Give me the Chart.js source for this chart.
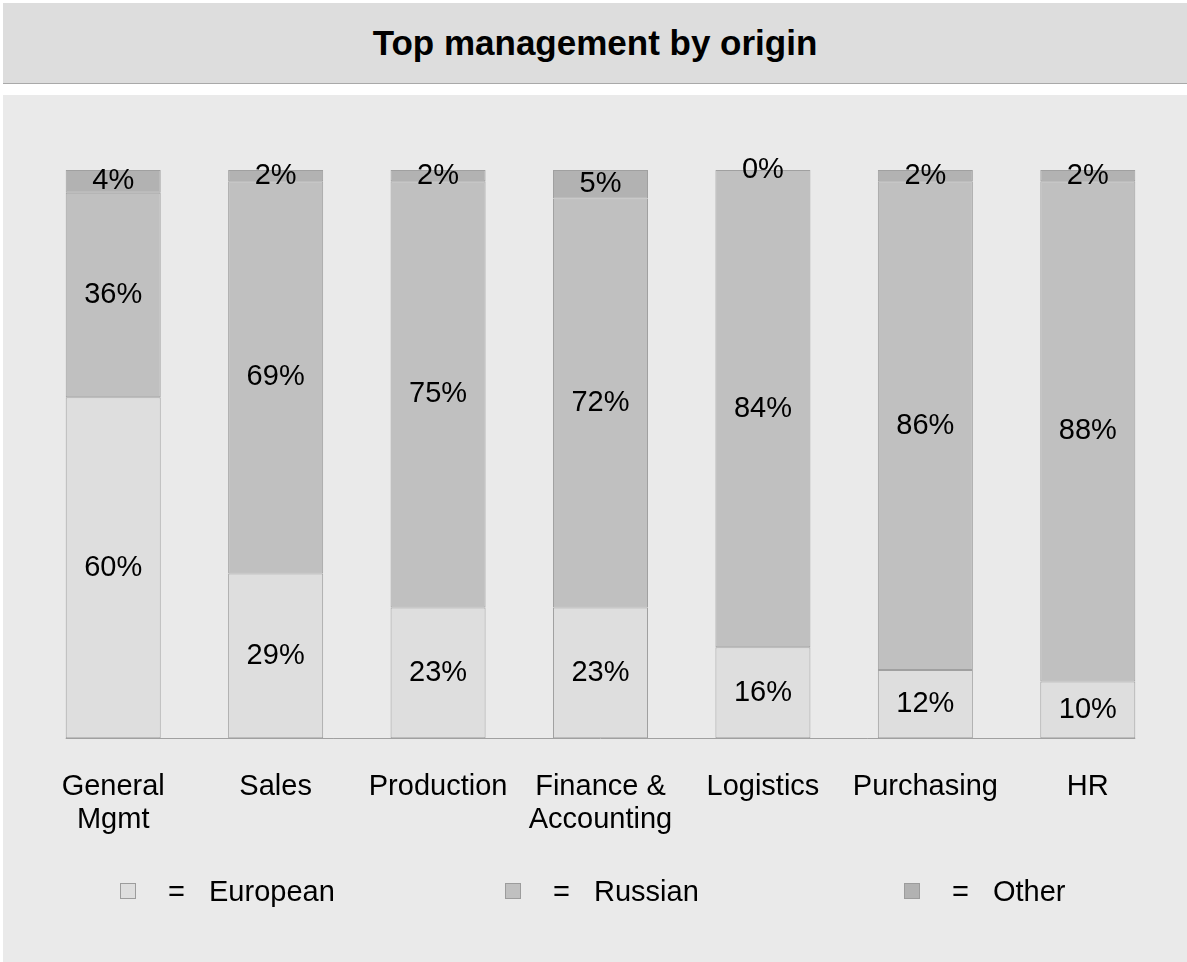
<!DOCTYPE html>
<html>
<head>
<meta charset="utf-8">
<title>Top management by origin</title>
<script src="https://cdn.jsdelivr.net/npm/chart.js"></script>
<style>
  body { margin: 0; background: #ffffff; font-family: "Liberation Sans", Arial, sans-serif; }
  #title {
    position: absolute; left: 3px; top: 3px; width: 1184px; height: 80px;
    background: #dddddd; border-bottom: 1px solid #a9a9a9;
    font-weight: bold; font-size: 35px; line-height: 80px; text-align: center; color: #000;
  }
  #panel { position: absolute; left: 3px; top: 95px; width: 1184px; height: 867px; background: #eaeaea; }
  #myChart { position: absolute; left: 0; top: 0; }
  .leg { position: absolute; top: 796px; height: 0; font-size: 29px; color: #000; }
  .leg .box { position: absolute; left: 0; top: -8px; width: 14px; height: 14px; border: 1px solid #9c9c9c; }
  .leg .eq { position: absolute; left: 48px; top: -17px; line-height: 34px; }
  .leg .txt { position: absolute; left: 89px; top: -17px; line-height: 34px; white-space: nowrap; }
</style>
</head>
<body>
<div id="title">Top management by origin</div>
<div id="panel">
  <canvas id="myChart" width="1184" height="867"></canvas>
  <div id="legend"></div>
</div>
<script>
var categories = [["General", "Mgmt"], "Sales", "Production", ["Finance &", "Accounting"], "Logistics", "Purchasing", "HR"];
var seriesNames = ["European", "Russian", "Other"];
var european = [60, 29, 23, 23, 16, 12, 10];
var russian = [36, 69, 75, 72, 84, 86, 88];
var other = [4, 2, 2, 5, 0, 2, 2];
var colors = ["#dedede", "#c0c0c0", "#b2b2b2"];

var FONT = '"Liberation Sans", Arial, sans-serif';

// percent labels in the middle of each segment + the base line under the bars
var barLabels = {
  id: "barLabels",
  afterDatasetsDraw: function(chart) {
    var ctx = chart.ctx;
    ctx.save();
    ctx.font = "29px " + FONT;
    ctx.fillStyle = "#000";
    ctx.textAlign = "center";
    ctx.textBaseline = "middle";
    chart.data.datasets.forEach(function(ds, i) {
      chart.getDatasetMeta(i).data.forEach(function(bar, j) {
        ctx.fillText(ds.data[j] + "%", bar.x, (bar.y + bar.base) / 2);
      });
    });
    var bars = chart.getDatasetMeta(0).data;
    var first = bars[0], last = bars[bars.length - 1];
    var y0 = Math.round(chart.scales.y.getPixelForValue(0)) + 0.5;
    ctx.strokeStyle = "#a0a0a0";
    ctx.lineWidth = 1;
    ctx.beginPath();
    ctx.moveTo(first.x - first.width / 2, y0);
    ctx.lineTo(last.x + last.width / 2, y0);
    ctx.stroke();
    ctx.restore();
  }
};

var seriesData = [european, russian, other];
var datasets = seriesNames.map(function(name, i) {
  return {
    label: name,
    data: seriesData[i],
    backgroundColor: colors[i],
    borderColor: "#a0a0a0",
    borderWidth: 1,
    borderSkipped: false,
    categoryPercentage: 1,
    barPercentage: 0.585
  };
});

new Chart("myChart", {
  type: "bar",
  data: { labels: categories, datasets: datasets },
  options: {
    responsive: false,
    animation: false,
    layout: { padding: { left: 29, right: 18, top: 75, bottom: 93 } },
    plugins: { legend: { display: false }, tooltip: { enabled: false } },
    scales: {
      x: {
        stacked: true,
        grid: { display: false, drawTicks: false },
        border: { display: false },
        ticks: { color: "#000", padding: 32, maxRotation: 0, autoSkip: false, font: { family: FONT, size: 29, lineHeight: 1.15 } }
      },
      y: { stacked: true, display: false, min: 0, max: 100 }
    }
  },
  plugins: [barLabels]
});

// legend: box  =  name
var legendLeft = [120, 505, 904];
var leg = document.getElementById("legend");
seriesNames.forEach(function(name, i) {
  var d = document.createElement("div");
  d.className = "leg";
  d.style.left = (legendLeft[i] - 3) + "px";
  d.innerHTML = '<div class="box" style="background:' + colors[i] + '"></div><span class="eq">=</span><span class="txt">' + name + '</span>';
  leg.append(d);
});
</script>
</body>
</html>
